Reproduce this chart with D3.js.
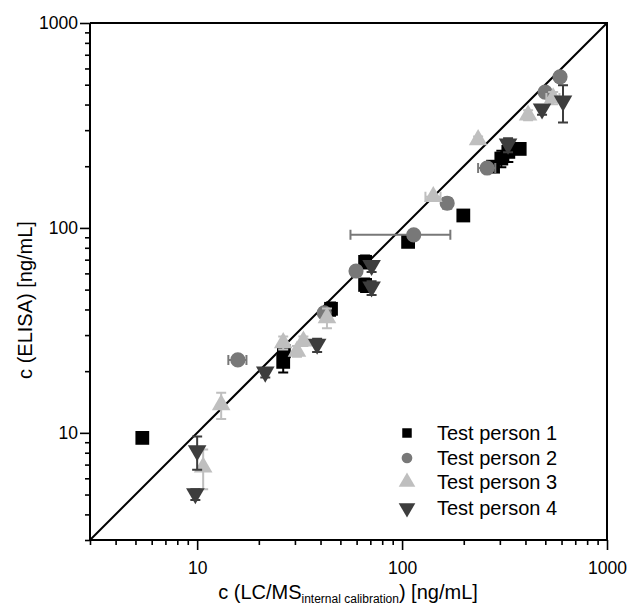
<!DOCTYPE html>
<html><head><meta charset="utf-8">
<script src="https://cdn.jsdelivr.net/npm/d3@7"></script>
<style>body{margin:0;background:#fff}svg{display:block;font-family:"Liberation Sans",Arial,sans-serif}</style>
</head><body><svg id="c" width="629" height="609"></svg>
<script>
// ---- data ----
const seriesNames = ["Test person 1","Test person 2","Test person 3","Test person 4"];
const p1X = [5.4, 26.3, 26.5, 45, 66, 66, 107, 199, 278, 305, 330, 375];
const p1Y = [9.45, 22.2, 25, 40.3, 68.3, 52.7, 85.5, 115, 199, 218, 235, 243];
const p1XErr = [0,0,0,0,0,0,0,0,0,0,0,0];
const p1YErr = [0, 2.5, 2, 3, 5, 4, 4, 0, 10, 20, 25, 0];
const p2X = [15.8, 41.7, 59.6, 114, 166, 260, 499, 590];
const p2Y = [22.7, 38.5, 61.6, 92.5, 132, 196, 460, 546];
const p2XErr = [1.6, 0, 0, 58, 0, 25, 0, 0];
const p2YErr = [0, 2, 3, 0, 8, 0, 20, 30];
const p3X = [10.7, 13.1, 26.3, 30.7, 33, 43, 142, 235, 412, 546];
const p3Y = [6.8, 13.7, 27.5, 25, 28, 36.4, 142, 269, 355, 431];
const p3XErr = [0, 0, 0, 0, 0, 0, 12, 0, 0, 40];
const p3YErr = [1.5, 2, 2, 1.5, 1.5, 4, 0, 10, 20, 30];
const p4X = [10.0, 9.8, 21.5, 38.5, 71, 71, 329, 482, 610];
const p4Y = [8.1, 5.0, 19.6, 26.8, 65, 51, 254, 377, 412];
const p4XErr = [0, 0, 0, 0, 0, 0, 0, 0, 0];
const p4YErr = [1.5, 0.3, 1, 2, 4, 4, 20, 20, 85];
const tickValues = [10, 100, 1000];
const domain = [3, 1000];

// ---- layout ----
const svg = d3.select("#c");
const L = 90, R = 607, T = 23, B = 540;
const x = d3.scaleLog().domain(domain).range([L, R]);
const y = d3.scaleLog().domain(domain).range([B, T]);
const colors = ["#000000", "#787878", "#bfbfbf", "#3d3d3d"];
const shapes = [d3.symbolSquare, d3.symbolCircle, d3.symbolTriangle, d3.symbolTriangle];
const sizes = [190, 180, 150, 150];
const rotations = [0, 0, 0, 180];

// frame (top/right)
svg.append("path").attr("d", `M${L},${T}H${R}V${B}`).attr("fill","none").attr("stroke","#000").attr("stroke-width",2);

// minor+major ticks
const allTicks = [];
for (let d = 1; d <= 100; d *= 10) for (let k = 1; k <= 9; k++) { const v = d*k; if (v >= 3 && v <= 1000) allTicks.push(v); }
allTicks.push(1000);
const xAxis = d3.axisBottom(x).tickValues(allTicks).tickFormat(v => tickValues.includes(v) ? v : "").tickSizeOuter(0);
const yAxis = d3.axisLeft(y).tickValues(allTicks).tickFormat(v => tickValues.includes(v) ? v : "").tickSizeOuter(0);
const gx = svg.append("g").attr("transform", `translate(0,${B})`).call(xAxis);
const gy = svg.append("g").attr("transform", `translate(${L},0)`).call(yAxis);
[gx, gy].forEach(g => {
  g.select(".domain").attr("stroke-width", 2).attr("stroke", "#000");
  g.selectAll(".tick line").attr("stroke", "#000").attr("stroke-width", 1.6);
  g.selectAll(".tick text").attr("font-size", 17.5).attr("fill", "#000").attr("font-family", '"Liberation Sans",Arial,sans-serif');
});
gx.selectAll(".tick line").attr("y2", d => tickValues.includes(d) ? 10 : 5);
gx.selectAll(".tick text").attr("y", 22);
gy.selectAll(".tick line").attr("x2", d => tickValues.includes(d) ? -10 : -5);
gy.selectAll(".tick text").attr("x", -12);
gx.select(".domain").attr("d", `M${L},0H${R}`);
gy.select(".domain").attr("d", `M0,${T}V${B}`);

// diagonal y = x
svg.append("line").attr("x1", x(domain[0])).attr("y1", y(domain[0])).attr("x2", x(domain[1])).attr("y2", y(domain[1]))
  .attr("stroke", "#000").attr("stroke-width", 2);

// series
const series = [
  {x: p1X, y: p1Y, xe: p1XErr, ye: p1YErr},
  {x: p2X, y: p2Y, xe: p2XErr, ye: p2YErr},
  {x: p3X, y: p3Y, xe: p3XErr, ye: p3YErr},
  {x: p4X, y: p4Y, xe: p4XErr, ye: p4YErr}
];
const cap = 5;
series.forEach((s, i) => {
  const g = svg.append("g");
  const pts = s.x.map((v, j) => ({x: v, y: s.y[j], xe: s.xe[j], ye: s.ye[j]}));
  pts.forEach(p => {
    const cx = x(p.x), cy = y(p.y);
    if (p.ye > 0) {
      const y1 = y(p.y + p.ye), y0 = y(Math.max(p.y - p.ye, 0.01));
      g.append("path").attr("d", `M${cx},${y1}V${y0}M${cx-cap},${y1}H${cx+cap}M${cx-cap},${y0}H${cx+cap}`)
        .attr("stroke", colors[i]).attr("stroke-width", 2).attr("fill", "none");
    }
    if (p.xe > 0) {
      const x1 = x(p.x + p.xe), x0 = x(Math.max(p.x - p.xe, 0.01));
      g.append("path").attr("d", `M${x0},${cy}H${x1}M${x0},${cy-cap}V${cy+cap}M${x1},${cy-cap}V${cy+cap}`)
        .attr("stroke", colors[i]).attr("stroke-width", 2).attr("fill", "none");
    }
  });
  g.selectAll("path.m").data(pts).join("path").attr("class", "m")
    .attr("d", d3.symbol().type(shapes[i]).size(sizes[i]))
    .attr("transform", d => `translate(${x(d.x)},${y(d.y) + (i===3 ? -1 : 0)}) rotate(${rotations[i]})`)
    .attr("fill", colors[i]);
});

// legend
const legY = [433, 458, 482, 508];
const legSizes = [90, 90, 120, 120];
seriesNames.forEach((name, i) => {
  svg.append("path").attr("d", d3.symbol().type(shapes[i]).size(legSizes[i]))
    .attr("transform", `translate(407,${legY[i]}) rotate(${rotations[i]})`).attr("fill", colors[i]);
  svg.append("text").attr("x", 437).attr("y", legY[i] + 7).attr("font-size", 20).attr("fill", "#000").text(name);
});

// axis titles
svg.append("text").attr("transform", "translate(32,300) rotate(-90)").attr("text-anchor", "middle")
  .attr("font-size", 20).attr("fill", "#000").text("c (ELISA) [ng/mL]");
const xt = svg.append("text").attr("x", 348).attr("y", 599).attr("text-anchor", "middle").attr("font-size", 20).attr("fill", "#000");
xt.append("tspan").text("c (LC/MS");
xt.append("tspan").attr("font-size", 12).attr("dy", 4).text("internal calibration");
xt.append("tspan").attr("dy", -4).text(") [ng/mL]");
</script></body></html>
